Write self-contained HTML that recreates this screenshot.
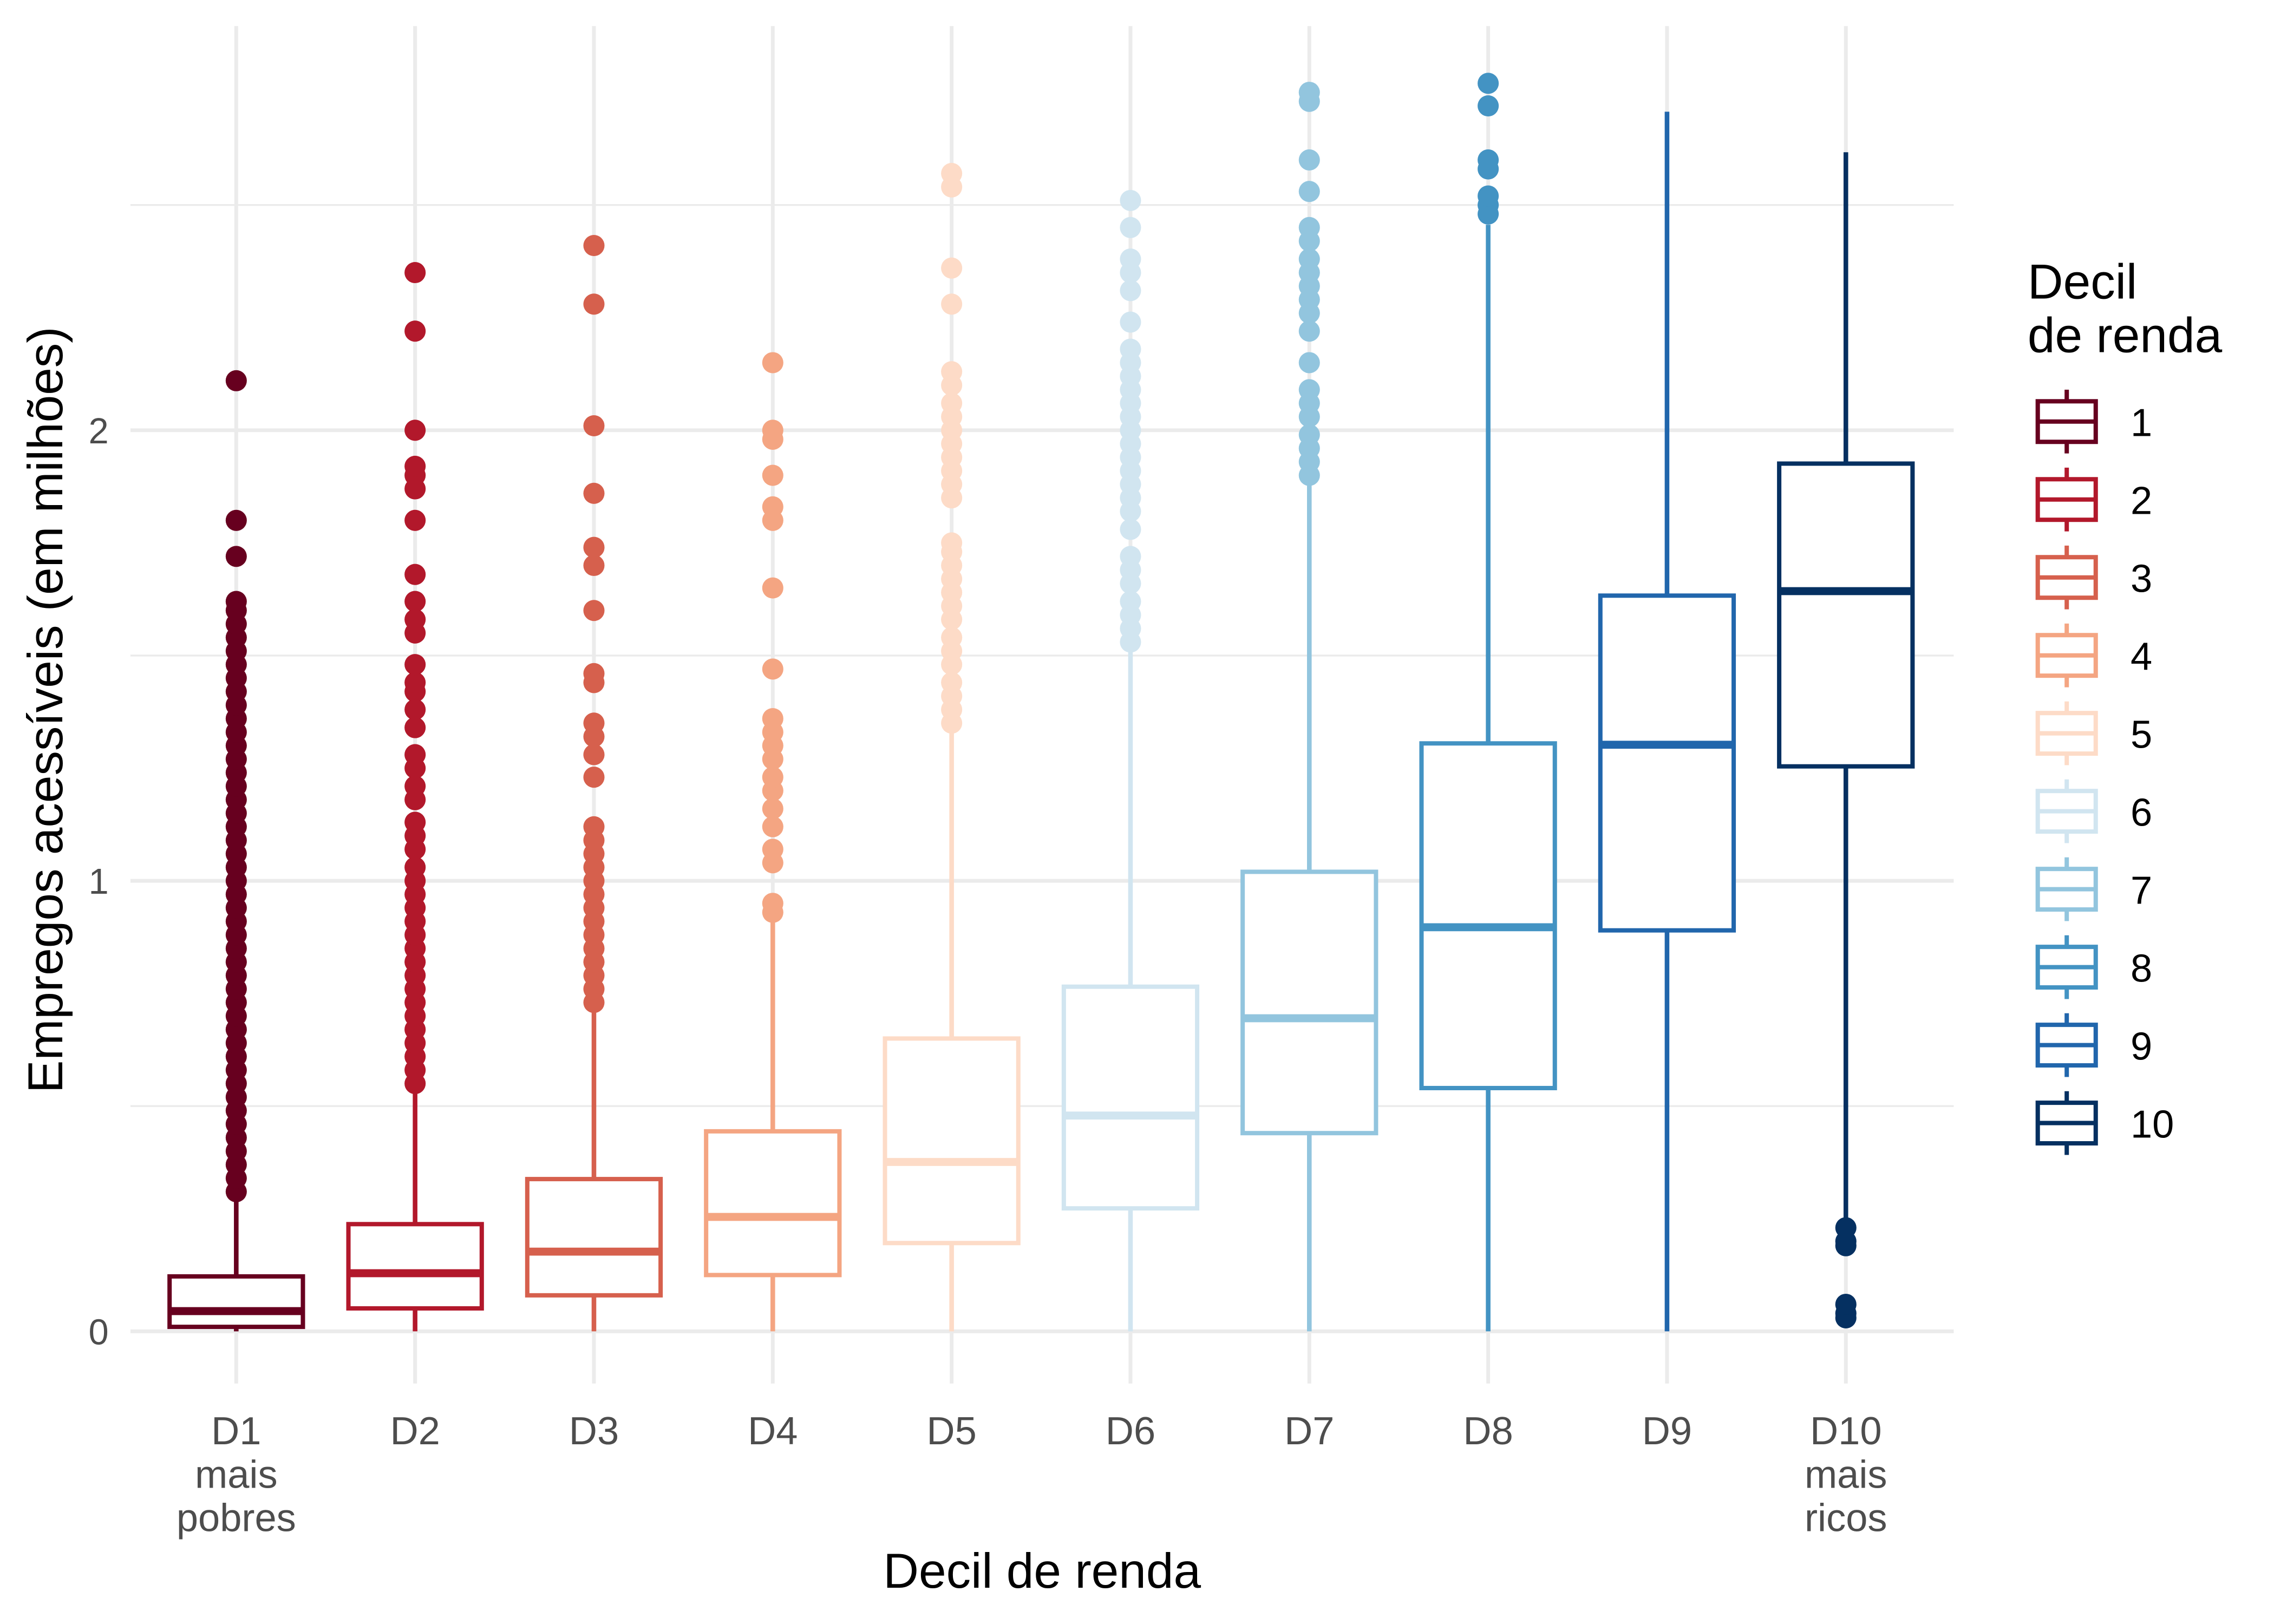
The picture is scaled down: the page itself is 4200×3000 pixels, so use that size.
<!DOCTYPE html>
<html><head><meta charset="utf-8"><style>html,body{margin:0;padding:0;background:#fff}svg{display:block}</style></head>
<body>
<svg id="chart" width="4200" height="3000" viewBox="0 0 1569 1121" preserveAspectRatio="none" xmlns="http://www.w3.org/2000/svg" font-family="Liberation Sans, sans-serif">
<rect width="1569" height="1121" fill="#fff"/>
<g id="grid"></g><g id="marks"></g><g id="axes"></g><g id="legend"></g>
</svg>
<script>
const categories = ["D1","D2","D3","D4","D5","D6","D7","D8","D9","D10"];
const subLabels = [["mais","pobres"],[],[],[],[],[],[],[],[],["mais","ricos"]];
const colors = ["#67001f","#b2182b","#d6604d","#f4a582","#fddbc7","#d1e5f0","#92c5de","#4393c3","#2166ac","#053061"];
const lowerWhisker = [0,0,0,0,0,0,0,0,0,0.235];
const q1Values = [0.01,0.051,0.08,0.125,0.196,0.273,0.44,0.54,0.89,1.254];
const medianValues = [0.045,0.129,0.177,0.254,0.376,0.479,0.695,0.897,1.302,1.643];
const q3Values = [0.122,0.238,0.338,0.444,0.65,0.765,1.02,1.305,1.633,1.926];
const upperWhisker = [0.305,0.55,0.72,0.92,1.33,1.52,1.9,2.456,2.707,2.617];
const outliers = [
 [0.31,0.34,0.37,0.40,0.43,0.46,0.49,0.52,0.55,0.58,0.61,0.64,0.67,0.70,0.73,0.76,0.79,0.82,0.85,0.88,0.91,0.94,0.97,1.0,1.03,1.06,1.09,1.12,1.15,1.18,1.21,1.24,1.27,1.30,1.33,1.36,1.39,1.42,1.45,1.48,1.51,1.54,1.57,1.60,1.62,1.72,1.80,2.11],
 [0.55,0.58,0.61,0.64,0.67,0.70,0.73,0.76,0.79,0.82,0.85,0.88,0.91,0.94,0.97,1.0,1.03,1.07,1.10,1.13,1.18,1.21,1.25,1.28,1.34,1.38,1.42,1.44,1.48,1.55,1.58,1.62,1.68,1.80,1.87,1.90,1.92,2.0,2.22,2.35],
 [0.73,0.76,0.79,0.82,0.85,0.88,0.91,0.94,0.97,1.0,1.03,1.06,1.09,1.12,1.23,1.28,1.32,1.35,1.44,1.46,1.6,1.7,1.74,1.86,2.01,2.28,2.41],
 [0.93,0.95,1.04,1.07,1.12,1.16,1.20,1.23,1.27,1.30,1.33,1.36,1.47,1.65,1.80,1.83,1.90,1.98,2.0,2.15],
 [1.35,1.38,1.41,1.44,1.48,1.51,1.54,1.58,1.61,1.64,1.67,1.70,1.73,1.75,1.85,1.88,1.91,1.94,1.97,2.0,2.03,2.06,2.10,2.13,2.28,2.36,2.54,2.57],
 [1.53,1.56,1.59,1.62,1.66,1.69,1.72,1.78,1.82,1.85,1.88,1.91,1.94,1.97,2.0,2.03,2.06,2.09,2.12,2.15,2.18,2.24,2.31,2.35,2.38,2.45,2.51],
 [1.9,1.93,1.96,1.99,2.03,2.06,2.09,2.15,2.22,2.26,2.29,2.32,2.35,2.38,2.42,2.45,2.53,2.6,2.73,2.75],
 [2.48,2.50,2.52,2.58,2.60,2.72,2.77],
 [],
 [0.03,0.04,0.06,0.19,0.20,0.23]
];
const yTicks = [0,1,2];
const yMinor = [0.5,1.5,2.5];
const legendLabels = ["1","2","3","4","5","6","7","8","9","10"];

const NS="http://www.w3.org/2000/svg";
const X0=163, DX=123.4, Y0=919, PU=311;
const xScale=i=>X0+i*DX;
const yScale=v=>Y0-v*PU;
function mk(parent,tag,attrs,text){const e=document.createElementNS(NS,tag);for(const k in attrs)e.setAttribute(k,attrs[k]);if(text!==undefined)e.textContent=text;parent.appendChild(e);return e;}
const grid=document.getElementById('grid'),marks=document.getElementById('marks'),axes=document.getElementById('axes'),legend=document.getElementById('legend');
yMinor.forEach(v=>{const l=mk(grid,'line',{x1:90,x2:1348,y1:yScale(v),y2:yScale(v),stroke:'#ebebeb','stroke-width':1.3});

});
yTicks.forEach(v=>{const l=mk(grid,'line',{x1:90,x2:1348,y1:yScale(v),y2:yScale(v),stroke:'#ebebeb','stroke-width':2.6});


const t=mk(axes,'text',{x:75,y:yScale(v)+9,'text-anchor':'end','font-size':25,fill:'#4d4d4d'},String(v));

});
categories.forEach((c,i)=>{const l=mk(grid,'line',{x1:xScale(i),x2:xScale(i),y1:18,y2:955,stroke:'#ebebeb','stroke-width':2.6});

});
const HW=46;
categories.forEach((c,i)=>{
 const x=xScale(i),col=colors[i];
 const g=mk(marks,'g',{});
 
 
 mk(g,'line',{x1:x,x2:x,y1:yScale(q3Values[i]),y2:yScale(upperWhisker[i]),stroke:col,'stroke-width':3.2});
 mk(g,'line',{x1:x,x2:x,y1:yScale(q1Values[i]),y2:yScale(lowerWhisker[i]),stroke:col,'stroke-width':3.2});
 mk(g,'rect',{x:x-HW,y:yScale(q3Values[i]),width:2*HW,height:yScale(q1Values[i])-yScale(q3Values[i]),fill:'#fff',stroke:col,'stroke-width':3});
 mk(g,'line',{x1:x-HW,x2:x+HW,y1:yScale(medianValues[i]),y2:yScale(medianValues[i]),stroke:col,'stroke-width':5.5});
 outliers[i].forEach(v=>{const p=mk(g,'circle',{cx:x,cy:yScale(v),r:7.3,fill:col});
 
 });
 const t=mk(axes,'text',{x:x,y:997,'text-anchor':'middle','font-size':27,fill:'#4d4d4d'},c);
 
 
 subLabels[i].forEach((s,k)=>{const t2=mk(axes,'text',{x:x,y:1027+k*30,'text-anchor':'middle','font-size':27,fill:'#4d4d4d'},s);
 
 });
});
let t=mk(axes,'text',{x:719,y:1096,'text-anchor':'middle','font-size':34,fill:'#000'},'Decil de renda');


t=mk(axes,'text',{x:0,y:0,transform:'translate(43,490) rotate(-90)','text-anchor':'middle','font-size':34,fill:'#000'},'Empregos acessíveis (em milhões)');


t=mk(legend,'text',{x:1399,y:206,'font-size':34,fill:'#000'},'Decil');


t=mk(legend,'text',{x:1399,y:243,'font-size':34,fill:'#000'},'de renda');


legendLabels.forEach((lab,i)=>{
 const cy=291+i*53.8,col=colors[i];
 const g=mk(legend,'g',{});
 
 
 mk(g,'line',{x1:1426,x2:1426,y1:cy-22,y2:cy+22,stroke:col,'stroke-width':3});
 mk(g,'rect',{x:1406,y:cy-14,width:40,height:28,fill:'#fff',stroke:col,'stroke-width':3});
 mk(g,'line',{x1:1406,x2:1446,y1:cy,y2:cy,stroke:col,'stroke-width':3});
 mk(g,'text',{x:1470,y:cy+10,'font-size':27,fill:'#000'},lab);
});
</script>
</body></html>
